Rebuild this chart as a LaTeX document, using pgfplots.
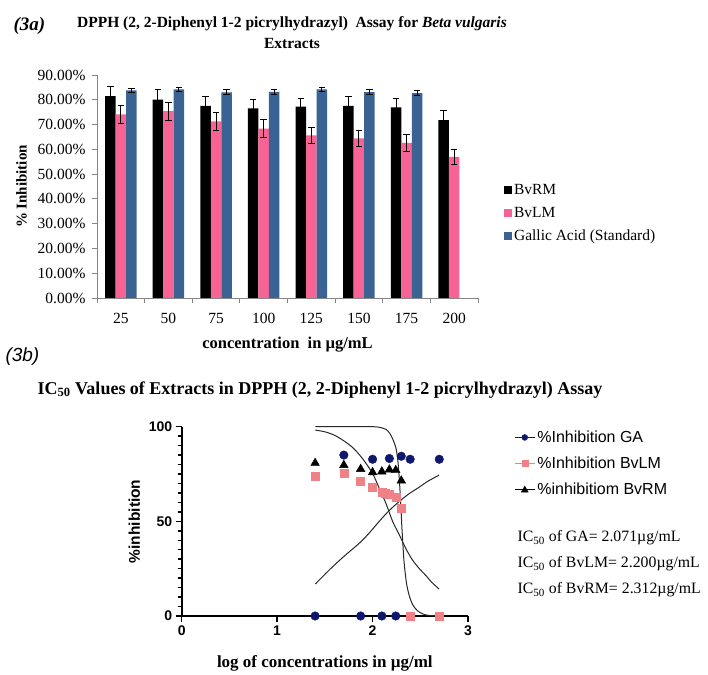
\documentclass[border=0pt]{standalone}
\usepackage{fontspec}
\setmainfont{Liberation Serif}
\newfontfamily\arial{Liberation Sans}
\usepackage{pgfplots}
\pgfplotsset{compat=1.18}
\definecolor{barpink}{RGB}{247,99,148}
\definecolor{barblue}{RGB}{58,99,148}
\definecolor{navy}{RGB}{16,24,110}
\definecolor{salmon}{RGB}{240,130,135}
\definecolor{axgray}{RGB}{134,134,134}
\definecolor{curve}{RGB}{40,40,40}
\begin{document}
\begin{tikzpicture}[x=1pt,y=1pt]
\useasboundingbox (0,0) rectangle (708,674);
% ---------- titles ----------
\node[anchor=west, font=\fontsize{19}{22}\selectfont\bfseries\itshape] at (10,648) {(3a)};
\node[font=\fontsize{15.5}{18}\selectfont\bfseries] at (292,650) {DPPH (2, 2-Diphenyl 1-2 picrylhydrazyl)\ \ Assay for \textit{Beta vulgaris}};
\node[font=\fontsize{15.5}{18}\selectfont\bfseries] at (292,630) {Extracts};
\node[anchor=west, font=\arial\fontsize{19}{22}\selectfont\itshape] at (2,317) {(3b)};
\node[font=\fontsize{18}{21}\selectfont\bfseries] at (320,284) {IC\textsubscript{50} Values of Extracts in DPPH (2, 2-Diphenyl 1-2 picrylhydrazyl) Assay};
% ---------- (3a) bar chart ----------
\begin{axis}[
  at={(97pt,376pt)}, anchor=south west, scale only axis,
  width=381pt, height=223pt,
  ybar=0pt, bar width=10.5pt,
  xmin=-0.5, xmax=7.5, ymin=0, ymax=90,
  axis x line*=bottom, axis y line*=left,
  axis line style={axgray, line width=0.8pt},
  tick align=outside,
  xtick={0,...,7},
  xticklabels={25,50,75,100,125,150,175,200},
  major x tick style={draw=none},
  minor xtick={-0.5,0.5,...,7.5},
  minor x tick style={axgray, line width=0.8pt},
  minor tick length=5pt,
  ytick={0,10,...,90},
  yticklabels={0.00\%,10.00\%,20.00\%,30.00\%,40.00\%,50.00\%,60.00\%,70.00\%,80.00\%,90.00\%},
  y tick style={axgray, line width=0.8pt},
  major tick length=5pt,
  ticklabel style={font=\fontsize{15.5}{18}\selectfont},
  xticklabel style={yshift=-7pt},
  yticklabel style={xshift=-3pt},
  ylabel={\% Inhibition},
  ylabel style={font=\fontsize{15}{18}\selectfont\bfseries, yshift=4pt},
  xlabel={concentration\ \ in µg/mL},
  xlabel style={font=\fontsize{16.5}{19}\selectfont\bfseries, yshift=-6pt},
  legend style={at={(1.06,0.38)}, anchor=west, draw=none, fill=none,
    font=\fontsize{15.5}{18}\selectfont, row sep=7pt},
  legend cell align=left,
  legend image code/.code={\fill[#1] (0pt,-4pt) rectangle (8pt,4pt);},
  error bars/y dir=both, error bars/y explicit,
  error bars/error bar style={black, line width=0.9pt},
  error bars/error mark options={rotate=90, mark size=3.2pt, black, line width=0.9pt},
]
\addplot[fill=black, draw=none] coordinates {
 (0,81.5) +- (0,4.0)
 (1,80.1) +- (0,4.0)
 (2,77.5) +- (0,4.0)
 (3,76.5) +- (0,3.8)
 (4,77.2) +- (0,3.5)
 (5,77.5) +- (0,4.0)
 (6,76.9) +- (0,3.8)
 (7,71.8) +- (0,3.7)
};
\addlegendentry{BvRM}
\addplot[fill=barpink, draw=none] coordinates {
 (0,74.1) +- (0,3.8)
 (1,75.4) +- (0,3.7)
 (2,71.3) +- (0,3.5)
 (3,68.4) +- (0,3.5)
 (4,65.6) +- (0,3.2)
 (5,64.4) +- (0,3.3)
 (6,62.6) +- (0,3.4)
 (7,57.0) +- (0,3.0)
};
\addlegendentry{BvLM}
\addplot[fill=barblue, draw=none] coordinates {
 (0,83.8) +- (0,0.8)
 (1,84.2) +- (0,0.9)
 (2,83.0) +- (0,1.0)
 (3,83.2) +- (0,1.0)
 (4,84.2) +- (0,0.8)
 (5,83.1) +- (0,1.0)
 (6,82.7) +- (0,1.0)
};
\addlegendentry{Gallic Acid (Standard)}
\end{axis}
% ---------- (3b) scatter + fitted curves ----------
\begin{axis}[
  at={(181.7pt,58pt)}, anchor=south west, scale only axis,
  width=286.3pt, height=189.3pt,
  xmin=0, xmax=3, ymin=0, ymax=100,
  axis x line*=bottom, axis y line*=left,
  axis line style={black, line width=1.8pt},
  tick align=outside,
  xtick={0,1,2,3}, ytick={0,50,100},
  minor y tick num=9,
  major tick length=6pt, minor tick length=4pt,
  tick style={black, line width=1.5pt},
  /pgf/number format/assume math mode=true,
  ticklabel style={font=\arial\bfseries\fontsize{14}{16}\selectfont},
  ylabel={\%inhibition},
  ylabel style={font=\arial\bfseries\fontsize{15.5}{18}\selectfont, yshift=2pt},
  xlabel={log of concentrations in µg/ml},
  xlabel style={font=\fontsize{17}{20}\selectfont\bfseries, yshift=-13pt},
  clip=false,
  legend style={at={(1.15,1.0)}, anchor=north west, draw=none, fill=none,
    font=\arial\fontsize{16}{18}\selectfont, row sep=9pt},
  legend cell align=left,
]
% fitted curves
\addplot[curve, line width=1pt, smooth, tension=0.5, forget plot] coordinates {
 (1.40,100) (1.80,100) (2.00,100) (2.07,99.7) (2.14,98.6) (2.18,96.5) (2.21,93.6)
 (2.244,89.0) (2.265,82.0) (2.28,72.5) (2.296,58.5) (2.307,47.0) (2.32,36.0) (2.331,28.0)
 (2.355,17.5) (2.383,11.0) (2.42,6.0) (2.47,2.8) (2.53,1.0) (2.59,0.3) (2.70,0.0)
};
\addplot[curve, line width=1pt, smooth, forget plot] coordinates {
 (1.40,98.2) (1.50,97.3) (1.60,95.5) (1.70,92.5) (1.80,88.6) (1.90,82.8) (2.00,75.3)
 (2.07,67.5) (2.14,59.5) (2.21,50.0) (2.279,43.0) (2.35,35.5) (2.418,29.6) (2.49,25.0)
 (2.557,21.5) (2.62,17.8) (2.696,14.3)
};
\addplot[curve, line width=1pt, smooth, forget plot] coordinates {
 (1.40,16.9) (1.55,24.5) (1.70,31.5) (1.86,38.4) (1.95,43.0) (2.07,50.0) (2.17,55.5)
 (2.28,60.5) (2.38,64.5) (2.487,68.0) (2.58,71.2) (2.696,74.4)
};
% data
\addplot[only marks, mark=*, mark size=4.3pt, navy, mark options={fill=navy, draw=navy},
  legend image code/.code={\draw[navy, line width=1.2pt] (0pt,0pt) -- (20pt,0pt);
    \fill[navy] (10pt,0pt) circle (3pt);}] coordinates {
 (1.398,0) (1.699,85.0) (1.875,0) (2.000,82.8) (2.097,0) (2.176,83.2)
 (2.243,0) (2.301,84.4) (2.394,82.8) (2.699,82.8)
};
\addlegendentry{\%Inhibition GA}
\addplot[only marks, mark=square*, mark size=4pt, salmon, mark options={fill=salmon, draw=salmon},
  legend image code/.code={\draw[salmon, line width=1.2pt] (0pt,0pt) -- (20pt,0pt);
    \fill[salmon] (7pt,-3pt) rectangle (13pt,3pt);}] coordinates {
 (1.398,73.9) (1.699,75.3) (1.875,71.3) (2.000,68.3) (2.097,65.6) (2.130,64.8)
 (2.176,64.2) (2.243,62.5) (2.301,56.9) (2.394,0) (2.696,0)
};
\addlegendentry{\%Inhibition BvLM}
\addplot[only marks, mark=triangle*, mark size=5pt, black, mark options={fill=black, draw=black},
  legend image code/.code={\draw[black, line width=1.2pt] (0pt,0pt) -- (20pt,0pt);
    \fill[black] (10pt,3.5pt) -- (6.5pt,-2.5pt) -- (13.5pt,-2.5pt) -- cycle;}] coordinates {
 (1.398,80.8) (1.699,79.7) (1.875,77.6) (2.000,75.9) (2.097,76.3) (2.176,77.3)
 (2.243,77.0) (2.301,71.5)
};
\addlegendentry{\%inhibitiom BvRM}
\end{axis}
% IC50 annotations
\node[anchor=west, font=\fontsize{15.8}{18}\selectfont] at (514,136) {IC\textsubscript{50} of GA= 2.071µg/mL};
\node[anchor=west, font=\fontsize{15.8}{18}\selectfont] at (514,110) {IC\textsubscript{50} of BvLM= 2.200µg/mL};
\node[anchor=west, font=\fontsize{15.8}{18}\selectfont] at (514,84) {IC\textsubscript{50} of BvRM= 2.312µg/mL};
\end{tikzpicture}
\end{document}
